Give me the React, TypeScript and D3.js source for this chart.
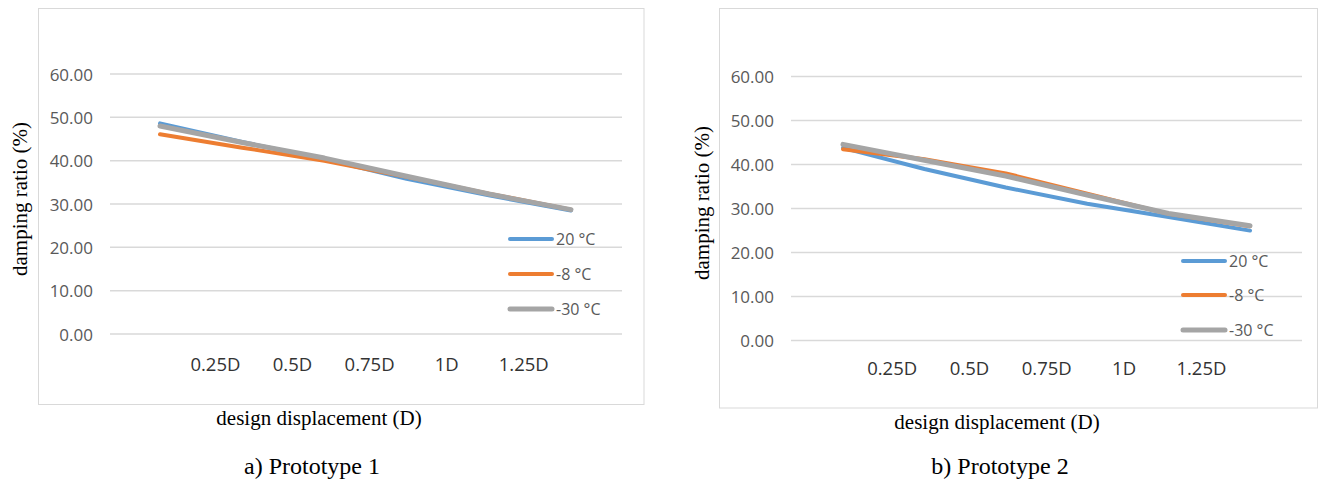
import React from "react";
import * as d3 from "d3";

// ---- data ----
const pointIndex = [0, 1, 2, 3, 4, 5];
const tickLabels = ["0.25D", "0.5D", "0.75D", "1D", "1.25D"];
const yTicks = [0, 10, 20, 30, 40, 50, 60];
const seriesNames = ["20 °C", "-8 °C", "-30 °C"];
const seriesColors = ["#5B9BD5", "#ED7D31", "#A5A5A5"];

const p1_20C = [48.6, 44.3, 40.4, 35.8, 32.0, 28.5];
const p1_m8C = [46.1, 43.0, 40.0, 36.3, 32.4, 28.7];
const p1_m30C = [48.0, 44.2, 40.6, 36.4, 32.3, 28.7];

const p2_20C = [43.8, 39.0, 34.8, 31.1, 28.1, 25.0];
const p2_m8C = [43.5, 41.2, 38.0, 33.4, 28.8, 26.0];
const p2_m30C = [44.6, 41.0, 37.4, 33.1, 28.9, 26.1];

const yTitle = "damping ratio (%)";
const xTitle = "design displacement (D)";
const captions = ["a) Prototype 1", "b) Prototype 2"];

type Layout = {
  box: [number, number, number, number];
  grid: [number, number];
  yRange: [number, number];
  xRange: [number, number];
  labelRange: [number, number];
  labelY: number;
  tickRight: number;
  legendX: number;
  legendY: number[];
  yTitleX: number;
  yTitleY: number;
  xTitleX: number;
  xTitleY: number;
  captionX: number;
  captionY: number;
};

const layouts: Layout[] = [
  {
    box: [38.5, 8.5, 605.5, 396],
    grid: [110, 622],
    yRange: [334, 74],
    xRange: [160, 571],
    labelRange: [215.4, 523.8],
    labelY: 371,
    tickRight: 93,
    legendX: 510,
    legendY: [239, 274, 309],
    yTitleX: 20,
    yTitleY: 199,
    xTitleX: 319,
    xTitleY: 425,
    captionX: 312,
    captionY: 474,
  },
  {
    box: [719.5, 8.5, 598, 399.5],
    grid: [791, 1302],
    yRange: [340.6, 76.6],
    xRange: [843, 1250],
    labelRange: [892.2, 1201.4],
    labelY: 375,
    tickRight: 774,
    legendX: 1183,
    legendY: [261, 295, 330],
    yTitleX: 702,
    yTitleY: 203,
    xTitleX: 997,
    xTitleY: 429,
    captionX: 1000,
    captionY: 474,
  },
];

const panelData = [
  [p1_20C, p1_m8C, p1_m30C],
  [p2_20C, p2_m8C, p2_m30C],
];

const sans = "'Open Sans', 'Noto Sans', sans-serif";
const serif = "'Liberation Serif', 'Times New Roman', serif";

function Panel({ L, data, caption }: { L: Layout; data: number[][]; caption: string }) {
  const x = d3.scalePoint<number>().domain(pointIndex).range(L.xRange);
  const y = d3.scaleLinear().domain([0, 60]).range(L.yRange);
  const xl = d3.scalePoint<string>().domain(tickLabels).range(L.labelRange);
  const line = d3
    .line<number>()
    .x((_, i) => x(pointIndex[i]) as number)
    .y((v) => y(v));
  const [bx, by, bw, bh] = L.box;
  return (
    <g>
      <rect x={bx} y={by} width={bw} height={bh} fill="#fff" stroke="#D9D9D9" strokeWidth={1} />
      {yTicks.map((t) => (
        <g key={t}>
          <line x1={L.grid[0]} x2={L.grid[1]} y1={y(t)} y2={y(t)} stroke="#D9D9D9" strokeWidth={1.5} />
          <text
            x={L.tickRight}
            y={y(t)}
            textAnchor="end"
            dominantBaseline="central"
            fontFamily={sans}
            fontSize={17}
            fill="#595959"
          >
            {t.toFixed(2)}
          </text>
        </g>
      ))}
      {tickLabels.map((lab) => (
        <text
          key={lab}
          x={xl(lab)}
          y={L.labelY}
          textAnchor="middle"
          fontFamily={sans}
          fontSize={18.5}
          fill="#333"
        >
          {lab}
        </text>
      ))}
      {data.map((s, i) => (
        <path
          key={i}
          d={line(s) as string}
          fill="none"
          stroke={seriesColors[i]}
          strokeWidth={i === 2 ? 5 : 4}
          strokeLinecap="round"
          strokeLinejoin="round"
        />
      ))}
      {seriesNames.map((n, i) => (
        <g key={n}>
          <line
            x1={L.legendX}
            x2={L.legendX + 42}
            y1={L.legendY[i]}
            y2={L.legendY[i]}
            stroke={seriesColors[i]}
            strokeWidth={i === 2 ? 5 : 4}
            strokeLinecap="round"
          />
          <text
            x={L.legendX + 46}
            y={L.legendY[i]}
            dominantBaseline="central"
            fontFamily={sans}
            fontSize={16}
            fill="#595959"
          >
            {n}
          </text>
        </g>
      ))}
      <text
        transform={`translate(${L.yTitleX},${L.yTitleY}) rotate(-90)`}
        textAnchor="middle"
        dominantBaseline="central"
        fontFamily={serif}
        fontSize={21}
        fill="#000"
      >
        {yTitle}
      </text>
      <text x={L.xTitleX} y={L.xTitleY} textAnchor="middle" fontFamily={serif} fontSize={21} fill="#000">
        {xTitle}
      </text>
      <text x={L.captionX} y={L.captionY} textAnchor="middle" fontFamily={serif} fontSize={24} fill="#000">
        {caption}
      </text>
    </g>
  );
}

export default function App() {
  return (
    <svg
      width={1323}
      height={483}
      style={{ position: "absolute", left: 0, top: 0, background: "#fff" }}
    >
      <rect width={1323} height={483} fill="#fff" />
      {layouts.map((L, i) => (
        <Panel key={i} L={L} data={panelData[i]} caption={captions[i]} />
      ))}
    </svg>
  );
}
